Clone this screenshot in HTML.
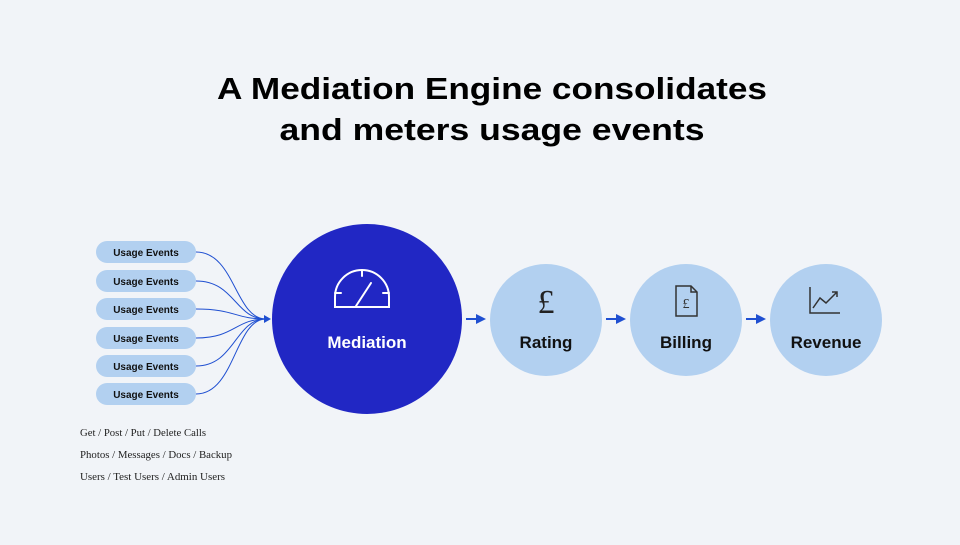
<!DOCTYPE html>
<html><head><meta charset="utf-8"><style>
body{margin:0;width:960px;height:540px;background:#f1f4f8;overflow:hidden;font-family:"Liberation Sans",sans-serif}
</style></head><body>
<svg width="960" height="540" xmlns="http://www.w3.org/2000/svg">
<text x="492" y="99" text-anchor="middle" font-family="Liberation Sans" font-weight="bold" font-size="31" fill="#000" textLength="550" lengthAdjust="spacingAndGlyphs">A Mediation Engine consolidates</text>
<text x="492" y="140" text-anchor="middle" font-family="Liberation Sans" font-weight="bold" font-size="31" fill="#000" textLength="425" lengthAdjust="spacingAndGlyphs">and meters usage events</text>
<g font-family="Liberation Sans" font-weight="bold" font-size="10" fill="#111" text-anchor="middle">
<rect x="96" y="241" width="100" height="22" rx="11" fill="#b2d0f0"/><text x="146" y="256">Usage Events</text>
<rect x="96" y="270" width="100" height="22" rx="11" fill="#b2d0f0"/><text x="146" y="285">Usage Events</text>
<rect x="96" y="298" width="100" height="22" rx="11" fill="#b2d0f0"/><text x="146" y="313">Usage Events</text>
<rect x="96" y="327" width="100" height="22" rx="11" fill="#b2d0f0"/><text x="146" y="342">Usage Events</text>
<rect x="96" y="355" width="100" height="22" rx="11" fill="#b2d0f0"/><text x="146" y="370">Usage Events</text>
<rect x="96" y="383" width="100" height="22" rx="11" fill="#b2d0f0"/><text x="146" y="398">Usage Events</text>
</g>
<g fill="none" stroke="#1f4fd1" stroke-width="1">
<path d="M196 252 C235 252,235 319,266 319"/>
<path d="M196 281 C235 281,235 319,266 319"/>
<path d="M196 309 C235 309,235 319,266 319"/>
<path d="M196 338 C235 338,235 319,266 319"/>
<path d="M196 366 C235 366,235 319,266 319"/>
<path d="M196 394 C235 394,235 319,266 319"/>
</g>
<polygon points="264,315 271,319 264,323" fill="#1f4fd1"/>
<g font-family="Liberation Serif" font-size="10" fill="#222">
<text x="80" y="436" textLength="126" lengthAdjust="spacingAndGlyphs">Get / Post / Put / Delete Calls</text>
<text x="80" y="458" textLength="152" lengthAdjust="spacingAndGlyphs">Photos / Messages / Docs / Backup</text>
<text x="80" y="480" textLength="145" lengthAdjust="spacingAndGlyphs">Users / Test Users / Admin Users</text>
</g>
<circle cx="367" cy="319" r="95" fill="#2127c4"/>
<g fill="none" stroke="#fff" stroke-width="2" stroke-linecap="round">
<path d="M335 307 L335 297 A27 27 0 0 1 389 297 L389 307 Z"/>
<line x1="362" y1="270" x2="362" y2="276"/><line x1="335" y1="293" x2="341" y2="293"/><line x1="383" y1="293" x2="389" y2="293"/>
<line x1="356" y1="306" x2="371" y2="283"/>
</g>
<text x="367" y="348" text-anchor="middle" font-family="Liberation Sans" font-weight="bold" font-size="17" fill="#fff">Mediation</text>
<g fill="#b2d0f0"><circle cx="546" cy="320" r="56"/><circle cx="686" cy="320" r="56"/><circle cx="826" cy="320" r="56"/></g>
<g fill="#1f4fd1">
<rect x="466" y="318" width="12" height="2"/><polygon points="476,314 486,319 476,324"/>
<rect x="606" y="318" width="12" height="2"/><polygon points="616,314 626,319 616,324"/>
<rect x="746" y="318" width="12" height="2"/><polygon points="756,314 766,319 756,324"/>
</g>
<text x="546" y="313" text-anchor="middle" font-family="Liberation Serif" font-size="34" fill="#222">£</text>
<g fill="none" stroke="#333" stroke-width="1.5">
<path d="M676 286 L691 286 L697 292 L697 316 L676 316 Z"/><path d="M691 286 L691 292 L697 292"/>
<path d="M810 287 L810 313 L840 313"/><path d="M813 308 L820 298 L826 303 L837 292 M832 292 L837 292 L837 297"/>
</g>
<text x="686" y="308" text-anchor="middle" font-family="Liberation Serif" font-size="14" fill="#333">£</text>
<g font-family="Liberation Sans" font-weight="bold" font-size="17" fill="#111" text-anchor="middle">
<text x="546" y="348">Rating</text><text x="686" y="348">Billing</text><text x="826" y="348">Revenue</text>
</g>
</svg>
</body></html>
